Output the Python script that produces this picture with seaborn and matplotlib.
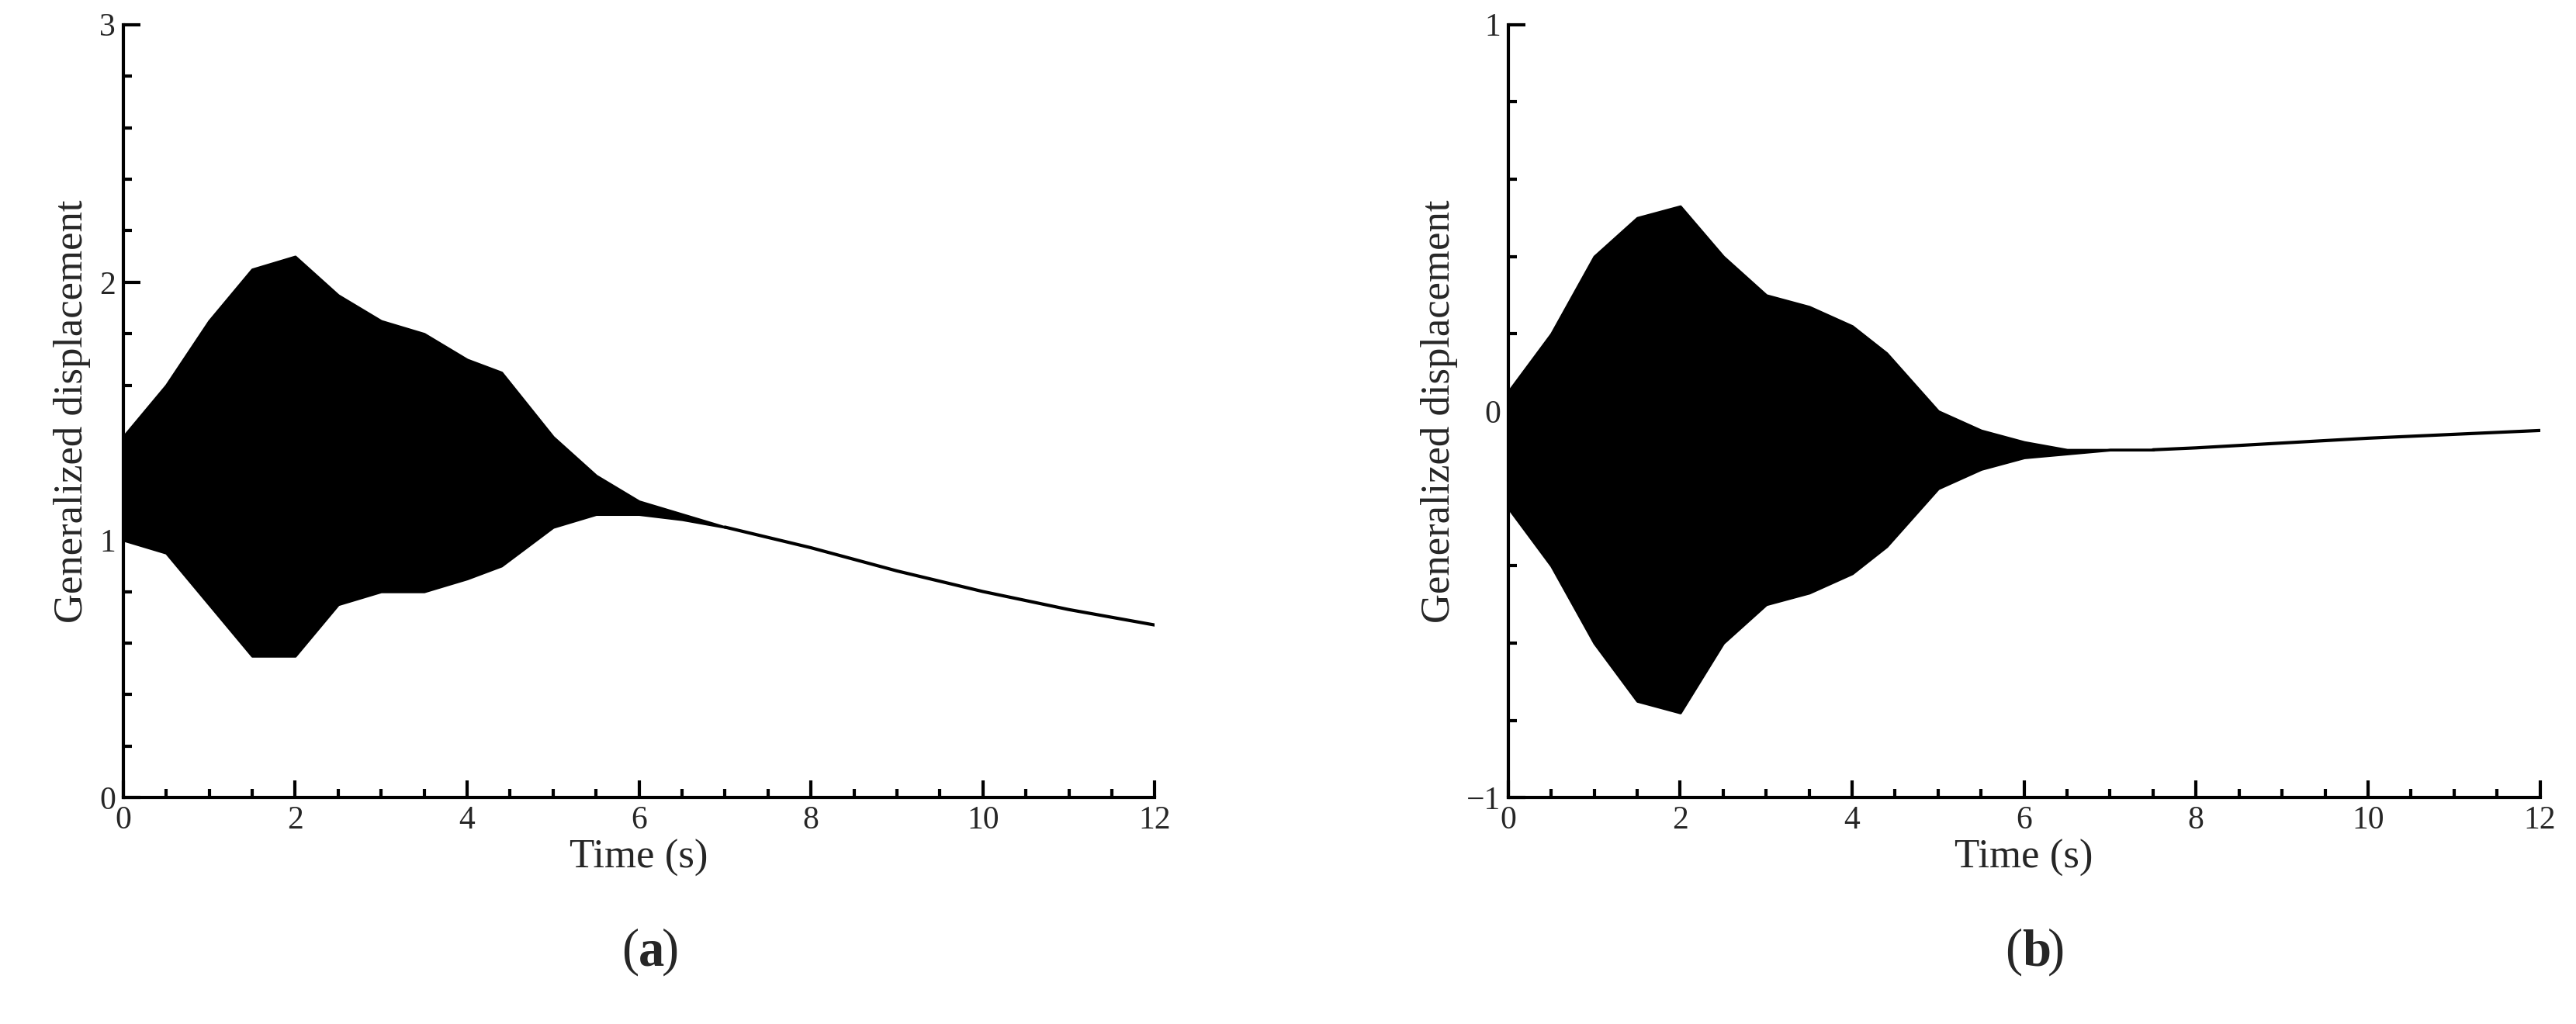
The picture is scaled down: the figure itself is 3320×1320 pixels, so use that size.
import matplotlib
matplotlib.use("Agg")
import matplotlib.pyplot as plt
import seaborn as sns
from matplotlib.ticker import MultipleLocator, FuncFormatter

sns.set_theme(style="ticks")
plt.rcParams['font.family'] = ['Liberation Serif', 'DejaVu Serif']

# Panel (a) envelope
ta = [0, 0.5, 1, 1.5, 2, 2.5, 3, 3.5, 4, 4.4, 5, 5.5, 6, 6.5, 7]
a_up = [1.4, 1.6, 1.85, 2.05, 2.1, 1.95, 1.85, 1.8, 1.7, 1.65, 1.4, 1.25, 1.15, 1.1, 1.05]
a_lo = [1.0, 0.95, 0.75, 0.55, 0.55, 0.75, 0.8, 0.8, 0.85, 0.9, 1.05, 1.1, 1.1, 1.08, 1.05]
ta_tail = [7, 8, 9, 10, 11, 12]
a_tail = [1.05, 0.97, 0.88, 0.8, 0.73, 0.67]

# Panel (b) envelope
tb = [0, 0.5, 1, 1.5, 2, 2.5, 3, 3.5, 4, 4.4, 5, 5.5, 6, 6.5, 7, 7.5]
b_up = [0.05, 0.2, 0.4, 0.5, 0.53, 0.4, 0.3, 0.27, 0.22, 0.15, 0.0, -0.05, -0.08, -0.1, -0.1, -0.1]
b_lo = [-0.25, -0.4, -0.6, -0.75, -0.78, -0.6, -0.5, -0.47, -0.42, -0.35, -0.2, -0.15, -0.12, -0.11, -0.1, -0.1]
tb_tail = [7.5, 8, 10, 12]
b_tail = [-0.1, -0.095, -0.07, -0.05]

fig = plt.figure(figsize=(16.6, 6.6), dpi=200)
axa = fig.add_axes([0.0478, 0.221, 0.4005, 0.755])
axb = fig.add_axes([0.5855, 0.221, 0.4005, 0.755])

def style(ax, ylim):
    ax.set_xlim(0, 12)
    ax.set_ylim(*ylim)
    ax.xaxis.set_major_locator(MultipleLocator(2))
    ax.xaxis.set_minor_locator(MultipleLocator(0.5))
    ax.yaxis.set_major_locator(MultipleLocator(1))
    ax.yaxis.set_minor_locator(MultipleLocator(0.2))
    ax.yaxis.set_major_formatter(FuncFormatter(lambda v, p: f"{int(round(v))}".replace('-', '\u2212')))
    ax.tick_params(which='both', direction='in', labelsize=15, width=1.5, color='black')
    ax.tick_params(which='major', length=8)
    ax.tick_params(which='minor', length=4)
    for s in ['top', 'right']:
        ax.spines[s].set_visible(False)
    for s in ['left', 'bottom']:
        ax.spines[s].set_linewidth(1.5)
        ax.spines[s].set_color('black')
    ax.set_xlabel('Time (s)', fontsize=19, labelpad=2)
    ax.set_ylabel('Generalized displacement', fontsize=19, labelpad=4)

axa.fill_between(ta, a_lo, a_up, color='black', edgecolor='black', lw=1.2)
sns.lineplot(x=ta_tail, y=a_tail, ax=axa, color='black', lw=1.5)
style(axa, (0, 3))

axb.fill_between(tb, b_lo, b_up, color='black', edgecolor='black', lw=1.2)
sns.lineplot(x=tb_tail, y=b_tail, ax=axb, color='black', lw=1.5)
style(axb, (-1, 1))

for x, letter, w in [(0.248, 'a', 0.0088), (0.785, 'b', 0.0098)]:
    fig.text(x, 0.07, '(', fontsize=24, ha='right', va='center')
    fig.text(x, 0.07, letter, fontsize=24, fontweight='bold', ha='left', va='center')
    fig.text(x + w, 0.07, ')', fontsize=24, ha='left', va='center')

fig.savefig('out.png', dpi=200)
